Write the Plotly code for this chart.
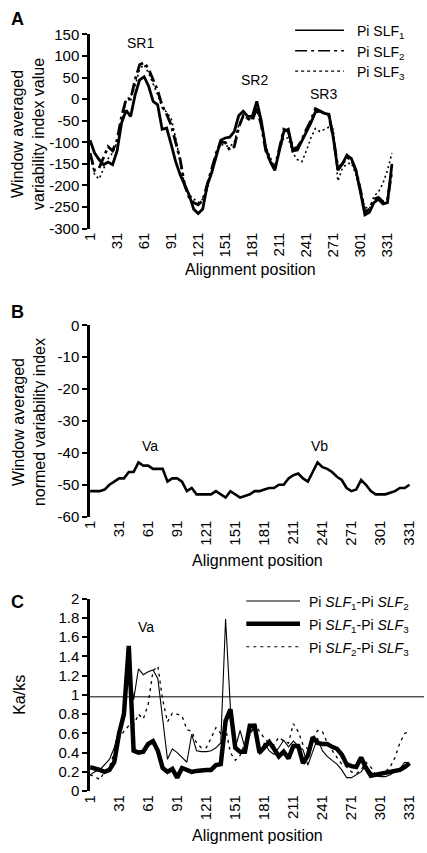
import plotly.graph_objects as go

W, H = 427, 853

# ---------------- data ----------------
pos_a = list(range(1, 337, 5))      # panel A alignment positions
pos_bc = list(range(1, 332, 5))     # panels B and C alignment positions
x_ticks = list(range(1, 332, 30))

slf1 = [-95, -125, -140, -152, -146, -152, -120, -55, -26, -40, 10, 45, 52, 30, -5, -13,
        -70, -67, -105, -145, -175, -200, -222, -255, -265, -255, -200, -170, -130, -95,
        -90, -88, -75, -38, -28, -40, -40, -5, -50, -115, -145, -165, -120, -75, -70, -120,
        -118, -98, -75, -55, -30, -28, -33, -35, -90, -165, -150, -130, -138, -165, -215,
        -268, -262, -240, -232, -243, -240, -150]
slf2 = [-125, -165, -160, -135, -110, -120, -95, -40, 0, 0, 45, 80, 85, 70, 45, 20,
        -15, -35, -60, -100, -140, -200, -228, -240, -245, -235, -200, -160, -125, -100,
        -100, -118, -110, -65, -38, -45, -50, -20, -60, -120, -145, -160, -115, -70, -75, -115,
        -112, -95, -70, -50, -22, -28, -33, -38, -90, -160, -150, -135, -140, -165, -210,
        -262, -255, -232, -228, -238, -235, -165]
slf3 = [-125, -175, -185, -160, -138, -125, -100, -60, 0, 5, 30, 70, 80, 60, 35, 10,
        -20, -30, -45, -90, -145, -200, -222, -232, -240, -232, -210, -165, -125, -105,
        -108, -110, -100, -60, -40, -45, -45, -15, -60, -110, -135, -160, -120, -90, -90, -125,
        -140, -145, -120, -90, -68, -75, -70, -65, -70, -190, -160, -150, -148, -175, -215,
        -250, -255, -225, -215, -195, -165, -125]

normed_vi = [-52, -52, -52, -51.5, -50, -49, -48, -48, -46, -46, -43, -44, -44, -45, -45, -45,
             -49, -48, -48, -49, -52, -51, -53, -53, -53, -53, -52, -53, -54, -52, -53, -54,
             -53.5, -53, -52, -52, -51.5, -51, -51, -50, -50, -48, -47, -46.5, -48, -49, -46,
             -43, -44.5, -45, -46, -47.5, -48.5, -51, -52, -51.5, -48.5, -50, -52, -53, -53,
             -53, -52.5, -52, -51, -51, -50]

kaks_12 = [0.17, 0.2, 0.22, 0.27, 0.33, 0.45, 0.65, 0.8, 1.35, 0.95, 1.27, 1.21, 1.24, 1.26,
           1.17, 0.75, 0.33, 0.44, 0.4, 0.35, 0.3, 0.59, 0.42, 0.41, 0.41, 0.42, 0.45, 0.5,
           1.79, 0.86, 0.45, 0.63, 0.45, 0.6, 0.65, 0.38, 0.5, 0.42, 0.38, 0.45, 0.53, 0.46,
           0.52, 0.47, 0.43, 0.27, 0.4, 0.55, 0.42, 0.36, 0.32, 0.28, 0.22, 0.14, 0.14, 0.17,
           0.2, 0.27, 0.2, 0.16, 0.15, 0.15, 0.17, 0.2, 0.23, 0.3, 0.29]
kaks_13 = [0.25, 0.24, 0.22, 0.2, 0.22, 0.3, 0.6, 0.8, 1.51, 0.42, 0.4, 0.41, 0.49, 0.52,
           0.42, 0.24, 0.2, 0.23, 0.14, 0.24, 0.22, 0.2, 0.21, 0.22, 0.22, 0.22, 0.27, 0.28,
           0.73, 0.85, 0.45, 0.41, 0.41, 0.68, 0.68, 0.4, 0.45, 0.51, 0.44, 0.36, 0.41, 0.34,
           0.47, 0.47, 0.29, 0.37, 0.56, 0.5, 0.49, 0.49, 0.46, 0.44, 0.38, 0.28, 0.26, 0.25,
           0.35, 0.24, 0.16, 0.17, 0.17, 0.18, 0.2, 0.21, 0.22, 0.25, 0.29]
kaks_23 = [0.17, 0.15, 0.12, 0.2, 0.25, 0.4, 0.55, 0.62, 0.68, 0.68, 0.8, 0.75, 0.9, 1.25,
           1.3, 0.95, 0.72, 0.81, 0.8, 0.78, 0.64, 0.62, 0.5, 0.45, 0.45, 0.55, 0.66, 0.6,
           0.65, 0.4, 0.32, 0.37, 0.5, 0.58, 0.7, 0.62, 0.55, 0.5, 0.48, 0.56, 0.52, 0.5,
           0.7, 0.62, 0.48, 0.44, 0.55, 0.63, 0.62, 0.5, 0.42, 0.35, 0.28, 0.25, 0.2, 0.18,
           0.22, 0.3, 0.25, 0.17, 0.18, 0.2, 0.25, 0.35, 0.5, 0.6, 0.62]
kaks_ref = 0.98

ticks_a = list(range(-300, 151, 50))
ticks_b = list(range(-60, 1, 10))
ticks_c = [0, 0.2, 0.4, 0.6, 0.8, 1, 1.2, 1.4, 1.6, 1.8, 2]

# ---------------- helpers ----------------
FONT = "Liberation Sans, Arial, sans-serif"
TICK = 15
TITLE = 16
LABEL = 14


def px(p):
    return p / W


def py(p):
    return 1 - p / H


fig = go.Figure()

# Panel A
fig.add_trace(go.Scatter(x=pos_a, y=slf1, xaxis="x", yaxis="y", mode="lines",
                         line=dict(color="black", width=2.8), showlegend=False))
fig.add_trace(go.Scatter(x=pos_a, y=slf2, xaxis="x", yaxis="y", mode="lines",
                         line=dict(color="black", width=2.8, dash="12px,4px,3px,4px"), showlegend=False))
fig.add_trace(go.Scatter(x=pos_a, y=slf3, xaxis="x", yaxis="y", mode="lines",
                         line=dict(color="black", width=1.6, dash="2px,3px"), showlegend=False))
# Panel B
fig.add_trace(go.Scatter(x=pos_bc, y=normed_vi, xaxis="x2", yaxis="y2", mode="lines",
                         line=dict(color="black", width=2.6), showlegend=False))
# Panel C
fig.add_trace(go.Scatter(x=pos_bc, y=kaks_23, xaxis="x3", yaxis="y3", mode="lines",
                         line=dict(color="black", width=1.3, dash="3px,4px"), showlegend=False))
fig.add_trace(go.Scatter(x=pos_bc, y=kaks_12, xaxis="x3", yaxis="y3", mode="lines",
                         line=dict(color="black", width=1.1), showlegend=False))
fig.add_trace(go.Scatter(x=pos_bc, y=kaks_13, xaxis="x3", yaxis="y3", mode="lines",
                         line=dict(color="black", width=4.5), showlegend=False))

xcommon = dict(showline=False, ticks="", tickangle=-90, tickvals=x_ticks,
               ticktext=[str(t) for t in x_ticks], showgrid=False, zeroline=False,
               tickfont=dict(size=TICK, color="black", family=FONT))
ycommon = dict(showline=True, linecolor="black", linewidth=2.5, ticks="outside",
               ticklen=5, tickwidth=2, tickcolor="black", showgrid=False, zeroline=False,
               tickfont=dict(size=TICK, color="black", family=FONT))

fig.update_layout(
    width=W, height=H, margin=dict(l=0, r=0, t=0, b=0),
    paper_bgcolor="white", plot_bgcolor="white",
    font=dict(family=FONT, color="black", size=TICK),
    xaxis=dict(domain=[px(83), px(394)], range=[1, 338], anchor="y", **xcommon),
    yaxis=dict(domain=[py(224), py(26)], range=[-300, 150], anchor="x",
               tickvals=ticks_a, ticktext=[str(t) for t in ticks_a], **ycommon),
    xaxis2=dict(domain=[px(83), px(425)], range=[1, 346], anchor="y2", **xcommon),
    yaxis2=dict(domain=[py(518), py(322.7)], range=[-60, 0], anchor="x2",
                tickvals=ticks_b, ticktext=[str(t) for t in ticks_b], **ycommon),
    xaxis3=dict(domain=[px(83), px(425)], range=[1, 346], anchor="y3", **xcommon),
    yaxis3=dict(domain=[py(798), py(601.7)], range=[0, 2], anchor="x3",
                tickvals=ticks_c, ticktext=[f"{t:g}" for t in ticks_c], **ycommon),
)

shapes = []
ann = []

# reference line Ka/ks = 1
shapes.append(dict(type="line", xref="x3", yref="y3", x0=1, x1=346, y0=kaks_ref, y1=kaks_ref,
                   line=dict(color="black", width=1)))


def text(x, y, s, size=LABEL, xanchor="center", yanchor="middle", angle=0, bold=False):
    if bold:
        s = f"<b>{s}</b>"
    ann.append(dict(x=px(x), y=py(y), xref="paper", yref="paper", text=s, showarrow=False,
                    xanchor=xanchor, yanchor=yanchor, textangle=angle,
                    font=dict(size=size, color="black", family=FONT)))


# Panel letters
text(9, 10, "A", size=18, bold=True)
text(9, 309, "B", size=18, bold=True)
text(9, 605, "C", size=18, bold=True)

# axis titles
text(20, 128, "Window averaged<br>variability index value", size=TITLE, angle=-90)
text(20, 422, "Window averaged<br>normed variability index", size=TITLE, angle=-90)
text(10, 700, "Ka/ks", size=TITLE, angle=-90)
text(247.5, 266, "Alignment position", size=TITLE)
text(254.5, 563, "Alignment position", size=TITLE)
text(254.5, 843, "Alignment position", size=TITLE)

# region labels
text(135, 35, "SR1")
text(251, 72, "SR2")
text(322, 87, "SR3")
text(144, 446, "Va")
text(318, 446, "Vb")
text(140, 631, "Va")

# legend panel A
leg_a = [("Pi SLF<sub>1</sub>", dict(width=1.5)),
         ("Pi SLF<sub>2</sub>", dict(width=1.5, dash="12px,4px,3px,4px")),
         ("Pi SLF<sub>3</sub>", dict(width=1.2, dash="3px,3px"))]
for (label, ln), yy in zip(leg_a, [21.7, 42.7, 63.3]):
    shapes.append(dict(type="line", xref="paper", yref="paper", x0=px(293), x1=px(343),
                       y0=py(yy), y1=py(yy), line=dict(color="black", **ln)))
    text(354, yy + 2, label, xanchor="left")

# legend panel C
leg_c = [("Pi <i>SLF</i><sub>1</sub>-Pi <i>SLF</i><sub>2</sub>", dict(width=1.1)),
         ("Pi <i>SLF</i><sub>1</sub>-Pi <i>SLF</i><sub>3</sub>", dict(width=4.5)),
         ("Pi <i>SLF</i><sub>2</sub>-Pi <i>SLF</i><sub>3</sub>", dict(width=1.2, dash="3px,4px"))]
for (label, ln), yy in zip(leg_c, [604, 627.3, 650.7]):
    shapes.append(dict(type="line", xref="paper", yref="paper", x0=px(243), x1=px(298),
                       y0=py(yy), y1=py(yy), line=dict(color="black", **ln)))
    text(305, yy + 2, label, xanchor="left")

fig.update_layout(shapes=shapes, annotations=ann)

fig.write_html("out.html", config={"displayModeBar": False},
               post_script="document.body.style.margin='0';document.body.style.overflow='hidden';")
